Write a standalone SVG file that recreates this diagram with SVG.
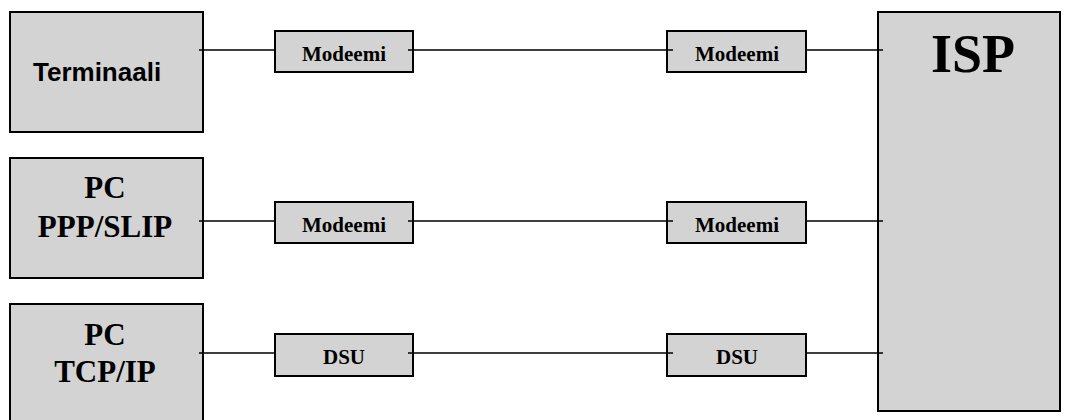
<svg xmlns="http://www.w3.org/2000/svg" width="1067" height="420" viewBox="0 0 1067 420">
<style>
.box{fill:#d3d3d3;stroke:#000;stroke-width:2}
.ln{stroke:#000;stroke-width:1.6;fill:none}
.big{font-family:"Liberation Serif","Times New Roman",serif;font-weight:bold;font-size:31px;text-anchor:middle;fill:#000}
.sm{font-family:"Liberation Serif","Times New Roman",serif;font-weight:bold;font-size:21px;text-anchor:middle;fill:#000}
.sans{font-family:"Liberation Sans",Arial,sans-serif;font-weight:bold;font-size:26px;fill:#000}
</style>
<rect width="1067" height="420" fill="#fff"/>
<g id="terminaali"><rect class="box" x="10" y="12" width="193" height="120"/><text class="sans" x="33" y="81">Terminaali</text></g>
<g id="pc-ppp"><rect class="box" x="10" y="158" width="193" height="120"/><text class="big" x="105" y="198">PC</text><text class="big" x="105" y="237">PPP/SLIP</text></g>
<g id="pc-tcp"><rect class="box" x="10" y="304" width="193" height="130"/><text class="big" x="105" y="345">PC</text><text class="big" x="105" y="382">TCP/IP</text></g>
<g id="isp"><rect class="box" x="878" y="12" width="182" height="399"/><text x="973" y="72" style="font-family:'Liberation Serif','Times New Roman',serif;font-weight:bold;font-size:54px;text-anchor:middle">ISP</text></g>
<g id="modeemi1"><rect class="box" x="275" y="31" width="138" height="41"/><text class="sm" x="344" y="61">Modeemi</text></g>
<g id="modeemi2"><rect class="box" x="667" y="31" width="139" height="41"/><text class="sm" x="737" y="61">Modeemi</text></g>
<g id="modeemi3"><rect class="box" x="275" y="202" width="138" height="41"/><text class="sm" x="344" y="232">Modeemi</text></g>
<g id="modeemi4"><rect class="box" x="667" y="202" width="139" height="41"/><text class="sm" x="737" y="232">Modeemi</text></g>
<g id="dsu1"><rect class="box" x="275" y="334" width="138" height="42"/><text class="sm" x="344" y="364">DSU</text></g>
<g id="dsu2"><rect class="box" x="667" y="334" width="139" height="42"/><text class="sm" x="737" y="364">DSU</text></g>
<g id="connectors">
<path class="ln" d="M199 50H275M408 50H673M806 50H883"/>
<path class="ln" d="M199 221H275M408 221H673M806 221H883"/>
<path class="ln" d="M199 353H275M408 353H673M806 353H883"/>
</g>
</svg>
